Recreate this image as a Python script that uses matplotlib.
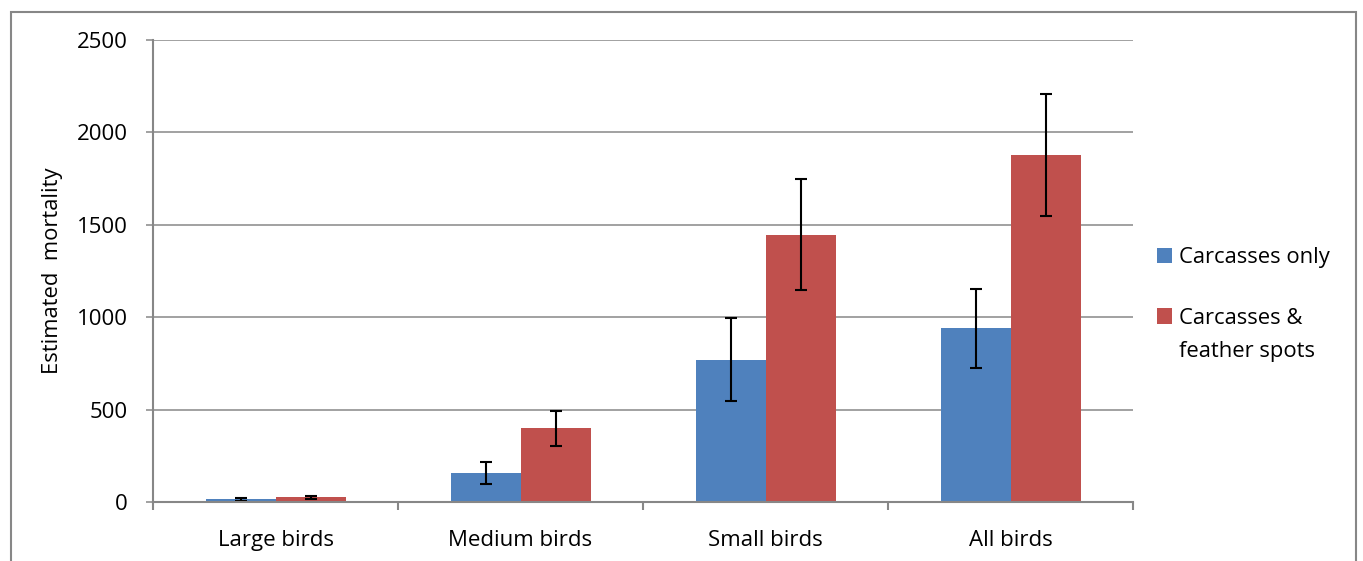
import numpy as np
import matplotlib.pyplot as plt
from matplotlib.patches import Rectangle

plt.rcParams['font.family'] = ['Open Sans', 'DejaVu Sans']

categories = ['Large birds', 'Medium birds', 'Small birds', 'All birds']
carcasses_only = [15, 155, 770, 940]
carcasses_only_err = [8, 60, 225, 215]
carcasses_feather = [25, 400, 1447, 1880]
carcasses_feather_err = [9, 95, 302, 330]
series_labels = ['Carcasses only', 'Carcasses &']
label_second_line = 'feather spots'

blue = '#4F81BD'
red = '#C0504D'
grey = '#878787'

W, H = 1363, 561
fig = plt.figure(figsize=(W / 100, H / 100), dpi=100)
ax = fig.add_axes([153 / W, 1 - 502 / H, 980 / W, 462 / H])

x = np.arange(len(categories))
w = 70 / 245
err_kw = dict(ecolor='black', elinewidth=1.5, capsize=4.5, capthick=1.5)
ax.bar(x - w / 2, carcasses_only, w, color=blue, yerr=carcasses_only_err,
       error_kw=err_kw, label=series_labels[0], zorder=2)
ax.bar(x + w / 2, carcasses_feather, w, color=red, yerr=carcasses_feather_err,
       error_kw=err_kw, label=series_labels[1], zorder=2)

ax.set_xlim(-0.5, len(categories) - 0.5)
ax.set_ylim(0, 2500)
ax.set_yticks(np.arange(0, 2501, 500))
ax.yaxis.grid(True, color=grey, linewidth=1.1)
ax.set_axisbelow(True)

# boundary ticks on x, labels at category centres
ax.set_xticks(np.arange(-0.5, len(categories), 1.0))
ax.set_xticklabels([])
ax.set_xticks(x, minor=True)
ax.set_xticklabels(categories, minor=True)
ax.tick_params(axis='x', which='major', length=6, width=1.5, color=grey, direction='out')
ax.tick_params(axis='x', which='minor', length=0, pad=20, labelsize=16)
ax.tick_params(axis='y', length=5, width=1.1, color=grey, direction='out', pad=13, labelsize=16)

for s in ['top', 'right']:
    ax.spines[s].set_visible(False)
for s in ['left', 'bottom']:
    ax.spines[s].set_color(grey)
    ax.spines[s].set_linewidth(1.5)

ax.set_ylabel('Estimated  mortality', fontsize=15.8, labelpad=10)

leg = ax.legend(loc='upper left', bbox_to_anchor=(1157 / W, 1 - 247 / H),
                bbox_transform=fig.transFigure, frameon=False, fontsize=15.8,
                handlelength=0.7, handleheight=0.7, handletextpad=0.3,
                labelspacing=1.8, borderaxespad=0, borderpad=0)

# second line of the red label sits under the first, patch stays on line one
fig.canvas.draw()
bb = leg.texts[1].get_window_extent()
fig.text(bb.x0 / W, ((bb.y0 + bb.y1) / 2 - 34) / H, label_second_line,
         fontsize=15.8, va='center', ha='left')

# outer chart frame
fig.patches.append(Rectangle((11 / W, -0.05), (1356 - 11) / W, 1.05 - 12 / H,
                             transform=fig.transFigure, fill=False,
                             edgecolor=grey, linewidth=1.5))

fig.savefig('out.png', dpi=100)
